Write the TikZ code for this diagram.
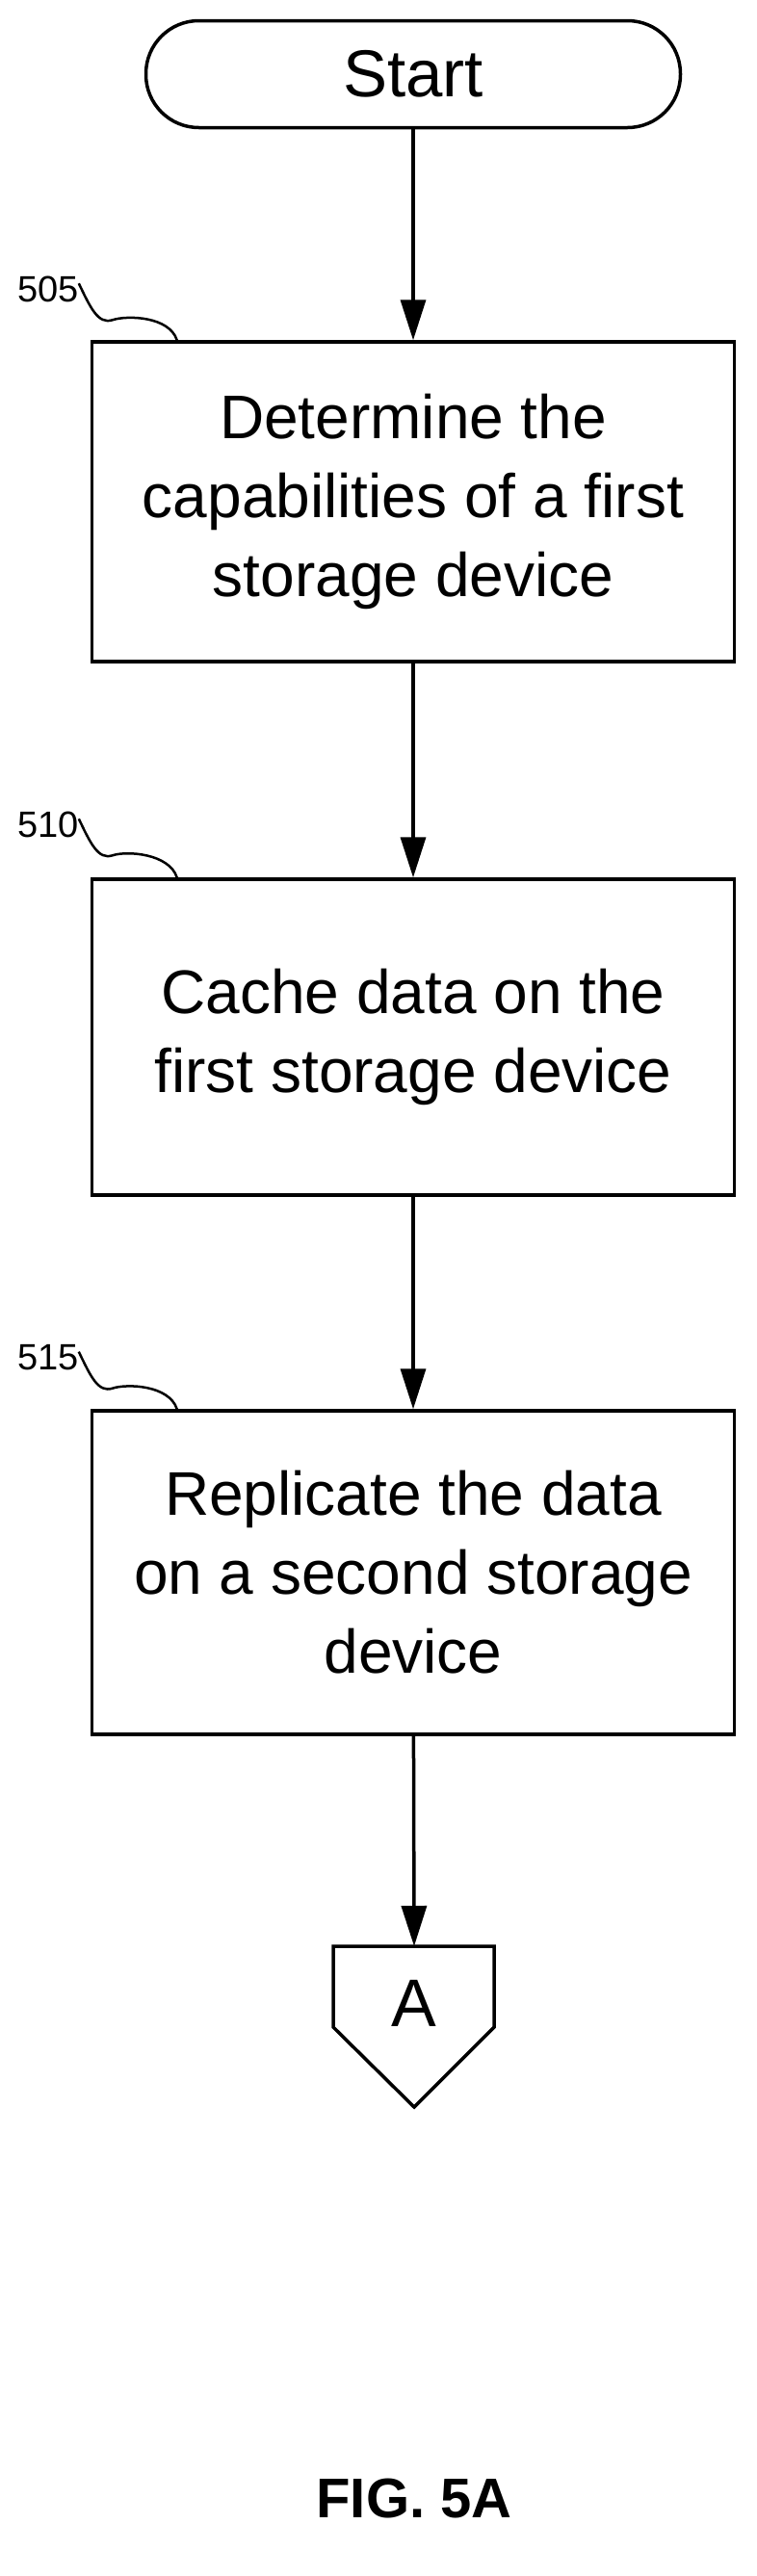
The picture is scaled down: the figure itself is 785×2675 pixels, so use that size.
\documentclass[tikz,border=0pt]{standalone}
\usepackage{fontspec}
\setmainfont{Liberation Sans}
\usetikzlibrary{arrows.meta,calc}
\begin{document}
\begin{tikzpicture}[x=1pt,y=-1pt,
  box/.style={draw,line width=3.5pt,minimum width=667pt,align=center,font=\fontsize{64}{82}\selectfont,inner sep=0pt},
  arr/.style={line width=3.5pt,-{Triangle[length=42pt,width=26pt]}},
  lbl/.style={font=\fontsize{38}{44}\selectfont,inner sep=0pt,anchor=base west},
  sq/.style={line width=2.5pt}]
\useasboundingbox (0,0) rectangle (785,2675);
\node[draw,line width=3.5pt,rounded corners=55pt,minimum width=555pt,minimum height=111pt,font=\fontsize{69}{80}\selectfont] (start) at (429,77) {Start};
\node[box,minimum height=332pt] (b1) at (429,521) {Determine the\\capabilities of a first\\storage device};
\node[box,minimum height=328pt] (b2) at (429,1077) {Cache data on the\\first storage device};
\node[box,minimum height=336pt] (b3) at (429,1633) {Replicate the data\\on a second storage\\device};
\coordinate (Atop) at (430,2021);
\draw[line width=3.5pt,line join=miter] (346,2021) -- (513,2021) -- (513,2105) -- (430,2188) -- (346,2105) -- cycle;
\node[font=\fontsize{70}{80}\selectfont,inner sep=0pt] (A) at (430,2080) {A};
\draw[arr] (start) -- (b1);
\draw[arr] (b1) -- (b2);
\draw[arr] (b2) -- (b3);
\draw[arr] (b3) -- (Atop);
\node[lbl] (l1) at (18,313) {505};
\node[lbl] (l2) at (18,869) {510};
\node[lbl] (l3) at (18,1422) {515};
\foreach \l/\b in {l1/b1,l2/b2,l3/b3}{
  \draw[sq] ($(\l.north east)+(0,8)$) .. controls +(12,25) and +(-15,5) .. ++(35,38) .. controls +(15,-5) and +(-8,-25) .. ($(\b.north west)+(90,0)$);
}
\node[font=\bfseries\fontsize{58}{66}\selectfont,inner sep=0pt] (fig) at (430,2594) {FIG. 5A};
\end{tikzpicture}
\end{document}
